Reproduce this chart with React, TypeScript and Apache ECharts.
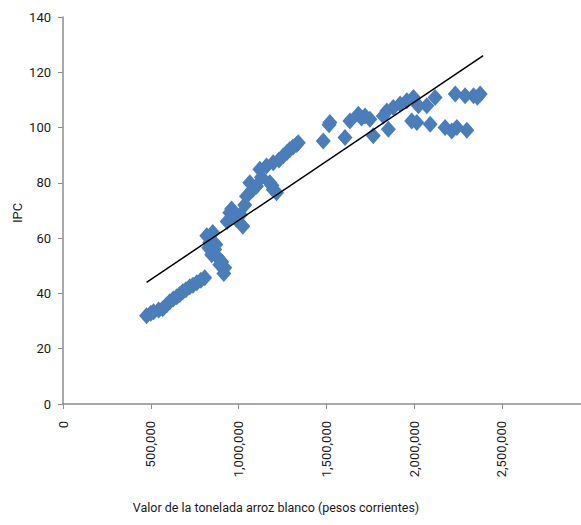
import React, { useEffect, useRef } from "react";
import * as echarts from "echarts";

// Valor de la tonelada de arroz blanco (pesos corrientes)
const precio: number[] = [
  476000, 500000, 516000, 545000, 568000, 590000, 608000, 628000, 648000, 665000,
  682000, 700000, 722000, 740000, 762000, 785000, 807000,
  819000, 836000, 853000, 847000, 864000, 870000, 881000, 893000, 904000, 921000, 916000, 830000,
  935000, 950000, 960000, 988000, 1010000, 1024000, 1035000, 1045000, 1064000, 1080000,
  1102000, 1121000, 1130000, 1159000, 1178000, 1197000, 1190000, 1216000, 1197000, 1230000,
  1254000, 1275000, 1292000, 1310000, 1330000, 1340000,
  1482000, 1520000, 1515000, 1606000, 1634000, 1682000, 1700000, 1720000, 1748000, 1767000,
  1824000, 1844000, 1853000, 1881000, 1920000, 1958000, 1996000, 1986000, 2015000, 2024000,
  2072000, 2091000, 2119000, 2176000, 2214000, 2243000, 2300000, 2234000, 2290000, 2338000,
  2376000, 2360000,
];

// IPC
const ipc: number[] = [
  31.9, 32.8, 33.4, 34.0, 34.5, 35.8, 37.0, 38.0, 38.8, 39.6,
  40.6, 41.3, 42.4, 43.0, 43.9, 44.8, 45.7,
  60.9, 58.4, 62.0, 54.0, 55.9, 57.7, 53.0, 50.4, 51.5, 49.3, 47.2, 56.5,
  66.0, 69.2, 70.5, 66.7, 68.5, 64.3, 72.0, 75.2, 80.0, 77.5,
  78.8, 84.9, 82.0, 86.1, 80.0, 77.6, 79.0, 76.4, 87.3, 88.3,
  89.7, 91.0, 92.1, 93.0, 93.9, 94.5,
  95.1, 101.8, 101.0, 96.4, 102.4, 104.8, 103.5, 104.2, 103.0, 97.0,
  104.2, 106.0, 99.4, 107.3, 108.5, 109.7, 110.9, 102.4, 101.8, 107.9,
  107.9, 101.2, 110.9, 100.0, 98.8, 100.0, 99.0, 112.1, 111.5, 111.5,
  112.1, 111.0,
];

// Línea de tendencia (extremos)
const trendX: number[] = [476000, 2393000];
const trendY: number[] = [44, 126];

const xTicks: number[] = [0, 500000, 1000000, 1500000, 2000000, 2500000];
const xTitle = "Valor de la tonelada arroz blanco (pesos corrientes)";
const yTitle = "IPC";

const FONT = "Roboto, 'Liberation Sans', sans-serif";

export default function App() {
  const ref = useRef<HTMLDivElement>(null);
  useEffect(() => {
    if (!ref.current) return;
    const chart = echarts.init(ref.current, undefined, { renderer: "svg" });
    const axisColor = "#8c8c8c";
    chart.setOption({
      animation: false,
      backgroundColor: "#ffffff",
      grid: { left: 63, top: 17, right: 0, bottom: 121, containLabel: false },
      xAxis: {
        type: "value",
        min: 0,
        max: 2950000,
        interval: 500000,
        splitLine: { show: false },
        axisLine: { show: true, onZero: false, lineStyle: { color: axisColor, width: 1.5 } },
        axisTick: { show: true, length: 5, lineStyle: { color: axisColor }, customValues: xTicks },
        axisLabel: {
          rotate: 90,
          margin: 17,
          fontSize: 13,
          fontFamily: FONT,
          color: "#1a1a1a",
          customValues: xTicks,
          formatter: (v: number) => v.toLocaleString("en-US"),
        },
      },
      yAxis: {
        type: "value",
        min: 0,
        max: 140,
        interval: 20,
        splitLine: { show: false },
        axisLine: { show: true, lineStyle: { color: axisColor, width: 1.5 } },
        axisTick: { show: true, length: 5, lineStyle: { color: axisColor } },
        axisLabel: { margin: 12, fontSize: 13, fontFamily: FONT, color: "#1a1a1a" },
      },
      graphic: [
        {
          type: "text",
          x: 276,
          y: 501,
          style: {
            text: xTitle,
            fontSize: 12.5,
            fontFamily: FONT,
            fill: "#1a1a1a",
            align: "center",
          },
        },
        {
          type: "text",
          x: 11,
          y: 223,
          rotation: Math.PI / 2,
          style: {
            text: yTitle,
            fontSize: 13,
            fontFamily: FONT,
            fill: "#1a1a1a",
          },
        },
      ],
      series: [
        {
          type: "scatter",
          symbol: "diamond",
          symbolSize: [15, 17],
          itemStyle: { color: "#4a7ebb", opacity: 1 },
          data: precio.map((p, i) => [p, ipc[i]]),
          z: 2,
        },
        {
          type: "line",
          showSymbol: false,
          lineStyle: { color: "#000000", width: 1.5 },
          data: trendX.map((p, i) => [p, trendY[i]]),
          z: 3,
        },
      ],
    });
    return () => chart.dispose();
  }, []);
  return (
    <div
      ref={ref}
      style={{ position: "fixed", left: 0, top: 0, width: 581, height: 525 }}
    />
  );
}
